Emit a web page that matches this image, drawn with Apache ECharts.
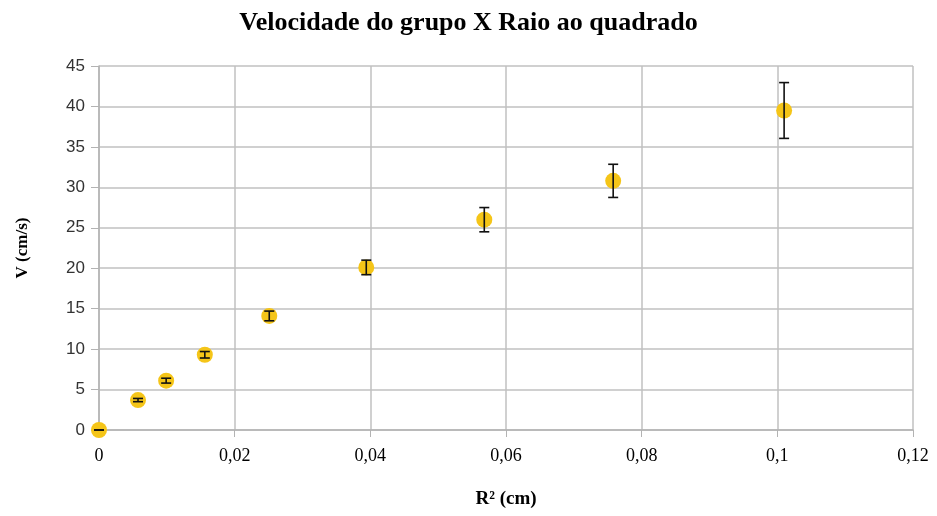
<!DOCTYPE html>
<html>
<head>
<meta charset="UTF-8">
<title>Velocidade do grupo X Raio ao quadrado</title>
<script type="text/javascript" src="https://cdn.jsdelivr.net/npm/echarts@6/dist/echarts.min.js"></script>
<style>
	html, body { margin: 0; padding: 0; background: #fff; }
</style>
</head>
<body>
	<div id="main" style="width: 937px;height:516px;"></div>
</body>
<script type="text/javascript">
	// dados
	var raio2 = [0, 0.00575, 0.0099, 0.0156, 0.0251, 0.0394, 0.0568, 0.0758, 0.101];
	var velocidade = [0, 3.7, 6.1, 9.3, 14.1, 20.1, 26.0, 30.8, 39.5];
	var erro = [0, 0.2, 0.3, 0.4, 0.6, 0.9, 1.5, 2.05, 3.45];

	var pontos = raio2.map(function (x, i) { return [x, velocidade[i]]; });
	var barras = raio2.map(function (x, i) { return [x, velocidade[i] - erro[i], velocidade[i] + erro[i]]; });

	var myChart = echarts.init(document.getElementById('main'));

	var option = {
		backgroundColor: '#fff',
		animation: false,
		title: {
			text: 'Velocidade do grupo X Raio ao quadrado',
			left: 'center',
			top: 5,
			textStyle: { fontFamily: 'Liberation Serif', fontWeight: 'bold', fontSize: 26, color: '#000' }
		},
		grid: { left: 99, right: 24, top: 66, bottom: 86, outerBoundsMode: 'none', containLabel: false },
		xAxis: {
			type: 'value',
			min: 0, max: 0.12, interval: 0.02,
			name: 'R² (cm)',
			nameLocation: 'middle',
			nameGap: 60,
			nameTextStyle: { fontFamily: 'Liberation Serif', fontWeight: 'bold', fontSize: 19, color: '#000' },
			axisLine: { lineStyle: { color: '#b3b3b3', width: 1.5 } },
			axisTick: { show: true, length: 7, lineStyle: { color: '#b3b3b3' } },
			axisLabel: {
				margin: 17,
				fontFamily: 'Liberation Serif', fontSize: 18, color: '#000',
				formatter: function (v) { return String(+v.toFixed(2)).replace('.', ','); }
			},
			splitLine: { lineStyle: { color: '#c0c0c0', width: 1.5 } }
		},
		yAxis: {
			type: 'value',
			min: 0, max: 45, interval: 5,
			name: 'V (cm/s)',
			nameLocation: 'middle',
			nameGap: 68,
			nameTextStyle: { fontFamily: 'Liberation Serif', fontWeight: 'bold', fontSize: 17, color: '#000' },
			axisLine: { show: true, lineStyle: { color: '#b3b3b3', width: 1.5 } },
			axisTick: { show: true, length: 8, lineStyle: { color: '#b3b3b3' } },
			axisLabel: { margin: 14, fontFamily: 'Liberation Sans', fontSize: 17, color: '#333' },
			splitLine: { lineStyle: { color: '#c0c0c0', width: 1.5 } }
		},
		series: [
			{
				type: 'scatter',
				data: pontos,
				symbol: 'circle',
				symbolSize: 16,
				itemStyle: { color: '#f5c518', opacity: 1 },
				z: 2
			},
			{
				type: 'custom',
				data: barras,
				z: 3,
				renderItem: function (params, api) {
					var x = api.value(0);
					var baixo = api.coord([x, api.value(1)]);
					var alto = api.coord([x, api.value(2)]);
					var w = 5;
					var estilo = { stroke: '#111', lineWidth: 1.6 };
					return {
						type: 'group',
						children: [
							{ type: 'line', shape: { x1: alto[0], y1: alto[1], x2: baixo[0], y2: baixo[1] }, style: estilo },
							{ type: 'line', shape: { x1: alto[0] - w, y1: alto[1], x2: alto[0] + w, y2: alto[1] }, style: estilo },
							{ type: 'line', shape: { x1: baixo[0] - w, y1: baixo[1], x2: baixo[0] + w, y2: baixo[1] }, style: estilo }
						]
					};
				}
			}
		]
	};
	myChart.setOption(option);
</script>
</html>
